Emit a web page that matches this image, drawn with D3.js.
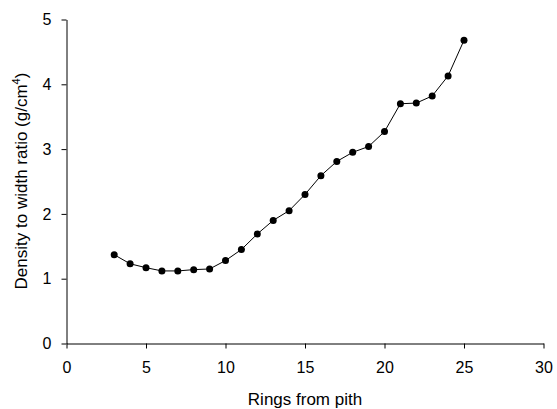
<!DOCTYPE html>
<html><head><meta charset="utf-8">
<script src="https://cdn.jsdelivr.net/npm/d3@7"></script>
<style>body{margin:0;background:#fff}svg{display:block}text{font-family:"Liberation Sans",Arial,sans-serif;fill:#000}</style>
</head><body><svg id="c" width="557" height="409"></svg>
<script>
const rings = [3,4,5,6,7,8,9,10,11,12,13,14,15,16,17,18,19,20,21,22,23,24,25];
const ratio = [1.37,1.23,1.17,1.12,1.12,1.14,1.15,1.28,1.45,1.69,1.90,2.05,2.30,2.59,2.81,2.95,3.04,3.27,3.70,3.71,3.82,4.13,4.68];
const xTicks = [0,5,10,15,20,25,30];
const yTicks = [0,1,2,3,4,5];

const svg = d3.select("#c");
const x = d3.scaleLinear().domain([0,30]).range([66.5,543.5]);
const y = d3.scaleLinear().domain([0,5]).range([343.5,19.5]);

const gx = svg.append("g").attr("transform","translate(0,343.5)")
  .call(d3.axisBottom(x).tickValues(xTicks).tickFormat(d3.format("d")).tickSize(5).tickPadding(13).tickSizeOuter(0));
const gy = svg.append("g").attr("transform","translate(66.5,0)")
  .call(d3.axisLeft(y).tickValues(yTicks).tickFormat(d3.format("d")).tickSize(5).tickPadding(10).tickSizeOuter(0));
[gx,gy].forEach(g=>{
  g.selectAll("path,line").attr("stroke","#000").attr("stroke-width",1);
  g.selectAll("text").style("font-size","16px").style("font-family",'"Liberation Sans",Arial,sans-serif');
});

const data = rings.map((r,i)=>({r,v:ratio[i]}));
svg.append("path").datum(data)
  .attr("fill","none").attr("stroke","#000").attr("stroke-width",1)
  .attr("d",d3.line().x(d=>x(d.r)).y(d=>y(d.v)));
svg.selectAll("circle.pt").data(data).enter().append("circle")
  .attr("cx",d=>x(d.r)).attr("cy",d=>y(d.v)).attr("r",3.5).attr("fill","#000");

svg.append("text").attr("x",305).attr("y",405).attr("text-anchor","middle")
  .style("font-size","17px").text("Rings from pith");
const yt = svg.append("text").attr("transform","translate(27,181) rotate(-90)")
  .attr("text-anchor","middle").style("font-size","17px");
yt.append("tspan").text("Density to width ratio (g/cm");
yt.append("tspan").attr("dy","-7").style("font-size","11px").text("4");
yt.append("tspan").attr("dy","7").text(")");
</script></body></html>
